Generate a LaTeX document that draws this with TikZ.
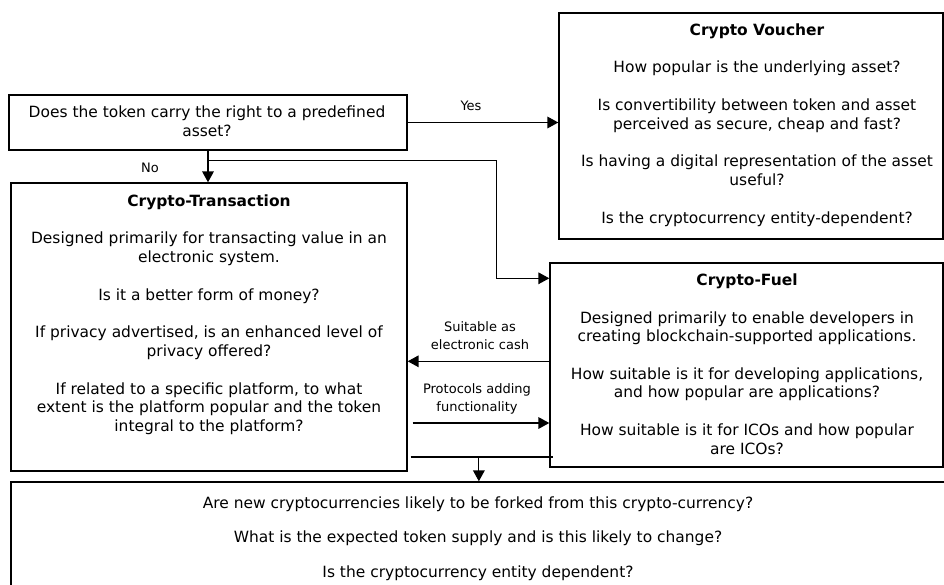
\documentclass[tikz,border=0pt]{standalone}
\usepackage{fontspec}
\setmainfont{DejaVu Sans}
\usetikzlibrary{arrows.meta,fit,calc}
\tikzset{
    box/.style={draw, line width=0.8pt, inner sep=0pt},
    boxtext/.style={align=center, inner sep=0pt, anchor=base,
            font=\fontsize{8.8}{10.5}\selectfont},
    lbl/.style={align=center, inner sep=0pt, anchor=base,
            font=\fontsize{7.4}{9.7}\selectfont},
    conn/.style={line width=0.7pt, -{Triangle[length=6.2pt, width=6.6pt]}},
    link/.style={line width=0.7pt},
}
\begin{document}
\begin{tikzpicture}[x=0.02cm, y=-0.02cm]
        \useasboundingbox (0, 0) rectangle (944, 585);
        \clip (0, 0) rectangle (944, 585);
        %draw the boxes
        \node[box, fit={(9, 95) (407, 150)}] (question) {};
        \node[box, fit={(559, 13) (943, 239)}] (voucher) {};
        \node[box, fit={(11, 183) (407, 471)}] (transaction) {};
        \node[box, fit={(550, 263) (943, 467)}] (fuel) {};
        \node[box, fit={(11, 482) (980, 640)}] (summary) {};
        %texts of the boxes (placed by the baseline of their last line)
        \node[boxtext] (questiontext) at (207, 136)
            {Does the token carry the right to a predefined\\asset?};
        \node[boxtext] (vouchertext) at (757, 223)
            {\textbf{Crypto Voucher}\\[11pt]
            How popular is the underlying asset?\\[11pt]
            Is convertibility between token and asset\\perceived as secure, cheap and fast?\\[11pt]
            Is having a digital representation of the asset\\useful?\\[11pt]
            Is the cryptocurrency entity-dependent?};
        \node[boxtext] (transactiontext) at (209, 431)
            {\textbf{Crypto-Transaction}\\[11pt]
            Designed primarily for transacting value in an\\electronic system.\\[11pt]
            Is it a better form of money?\\[11pt]
            If privacy advertised, is an enhanced level of\\privacy offered?\\[11pt]
            If related to a specific platform, to what\\extent is the platform popular and the token\\integral to the platform?};
        \node[boxtext] (fueltext) at (747, 454)
            {\textbf{Crypto-Fuel}\\[11pt]
            Designed primarily to enable developers in\\creating blockchain-supported applications.\\[11pt]
            How suitable is it for developing applications,\\and how popular are applications?\\[11pt]
            How suitable is it for ICOs and how popular\\are ICOs?};
        \node[boxtext] (summarytext) at (478, 577)
            {Are new cryptocurrencies likely to be forked from this crypto-currency?\\[8.9pt]
            What is the expected token supply and is this likely to change?\\[8.9pt]
            Is the cryptocurrency entity dependent?};
        %yes and no branches
        \draw[conn] (question.east) -- (question.east -| voucher.west);
        \node[lbl] (yes) at (471, 110) {Yes};
        \draw[conn] (question.south) -- (question.south |- transaction.north);
        \node[lbl] (no) at (150, 172) {No};
        \coordinate (split) at ($(question.south)+(0, 10)$);
        \coordinate (fuelin) at ($(fuel.north west)+(0, 16)$);
        \draw[conn] (split) -| ($(fuelin)+(-53, 0)$) -- (fuelin);
        %links between crypto-fuel and crypto-transaction
        \coordinate (cash) at ($(fuel.north west)+(0, 99)$);
        \draw[conn] (cash) -- (cash -| transaction.east);
        \node[lbl] (cashlabel) at (480, 349) {Suitable as\\electronic cash};
        \coordinate (proto) at ($(transaction.east)+(5, 96)$);
        \draw[conn] (proto) -- (proto -| fuel.west);
        \node[lbl] (protolabel) at (477, 411) {Protocols adding\\functionality};
        %join down to the last box
        \coordinate (joinl) at ($(transaction.east)+(3, 130)$);
        \coordinate (joinr) at ($(joinl)+(142, 0)$);
        \draw[link] (joinl) -- (joinr);
        \coordinate (drop) at ($(joinl)!0.48!(joinr)$);
        \draw[conn] (drop) -- (drop |- summary.north);
    \end{tikzpicture}
\end{document}
